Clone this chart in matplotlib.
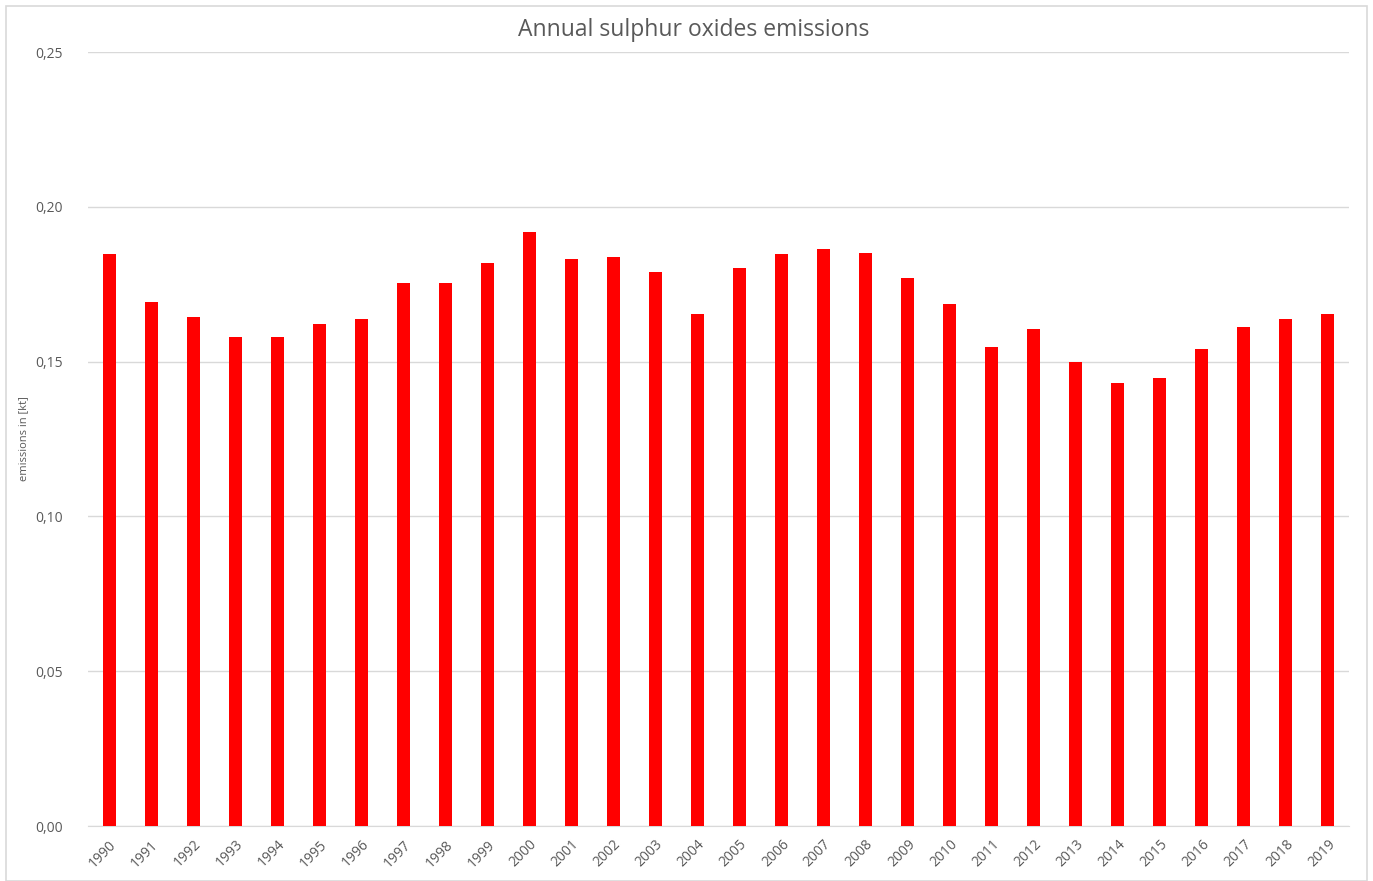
import matplotlib
matplotlib.use("Agg")
import matplotlib.pyplot as plt
from matplotlib.patches import Rectangle
from matplotlib.ticker import FuncFormatter

years = [str(y) for y in range(1990, 2020)]
emissions = [0.1848, 0.1694, 0.1645, 0.1581, 0.1581, 0.1622, 0.1639, 0.1753, 0.1753, 0.1817,
             0.1919, 0.1830, 0.1838, 0.1789, 0.1653, 0.1801, 0.1848, 0.1864, 0.1851, 0.1770,
             0.1686, 0.1546, 0.1605, 0.1500, 0.1432, 0.1447, 0.1541, 0.1612, 0.1639, 0.1654]
y_ticks = [0.0, 0.05, 0.10, 0.15, 0.20, 0.25]

plt.rcParams['font.family'] = ['Open Sans', 'DejaVu Sans']
grey = '#595959'

fig = plt.figure(figsize=(13.73, 8.81), dpi=100)
fig.patch.set_facecolor('white')
fig.add_artist(Rectangle((6/1373, 0.0), 1361/1373, 1 - 6/881, transform=fig.transFigure,
                         fill=False, edgecolor='#d9d9d9', linewidth=1.2))

ax = fig.add_axes([88/1373, 1 - 826/881, (1349 - 88)/1373, (826 - 52)/881])
x = list(range(len(years)))
ax.bar(x, emissions, width=0.31, color='#ff0000', zorder=3)
ax.set_xlim(-0.5, len(years) - 0.5)
ax.set_ylim(0, 0.25)
ax.set_yticks(y_ticks)
ax.yaxis.set_major_formatter(FuncFormatter(lambda v, p: f"{v:.2f}".replace('.', ',')))
ax.set_xticks(x)
ax.set_xticklabels(years, rotation=45, ha='right', rotation_mode='anchor')
ax.grid(axis='y', color='#d9d9d9', linewidth=1.0, zorder=0)
for s in ['top', 'right', 'left']:
    ax.spines[s].set_visible(False)
ax.spines['bottom'].set_color('#d9d9d9')
ax.tick_params(axis='both', length=0, colors=grey, labelsize=10)
ax.tick_params(axis='y', pad=18)
ax.tick_params(axis='x', pad=8)
ax.set_ylabel('emissions in [kt]', color=grey, fontsize=8)
ax.yaxis.set_label_coords(-0.047, 0.5)
fig.text(694/1373, 1 - 30/881, 'Annual sulphur oxides emissions', ha='center', va='center',
         fontsize=16.5, color=grey)

fig.savefig('out.png', dpi=100, facecolor='white')
